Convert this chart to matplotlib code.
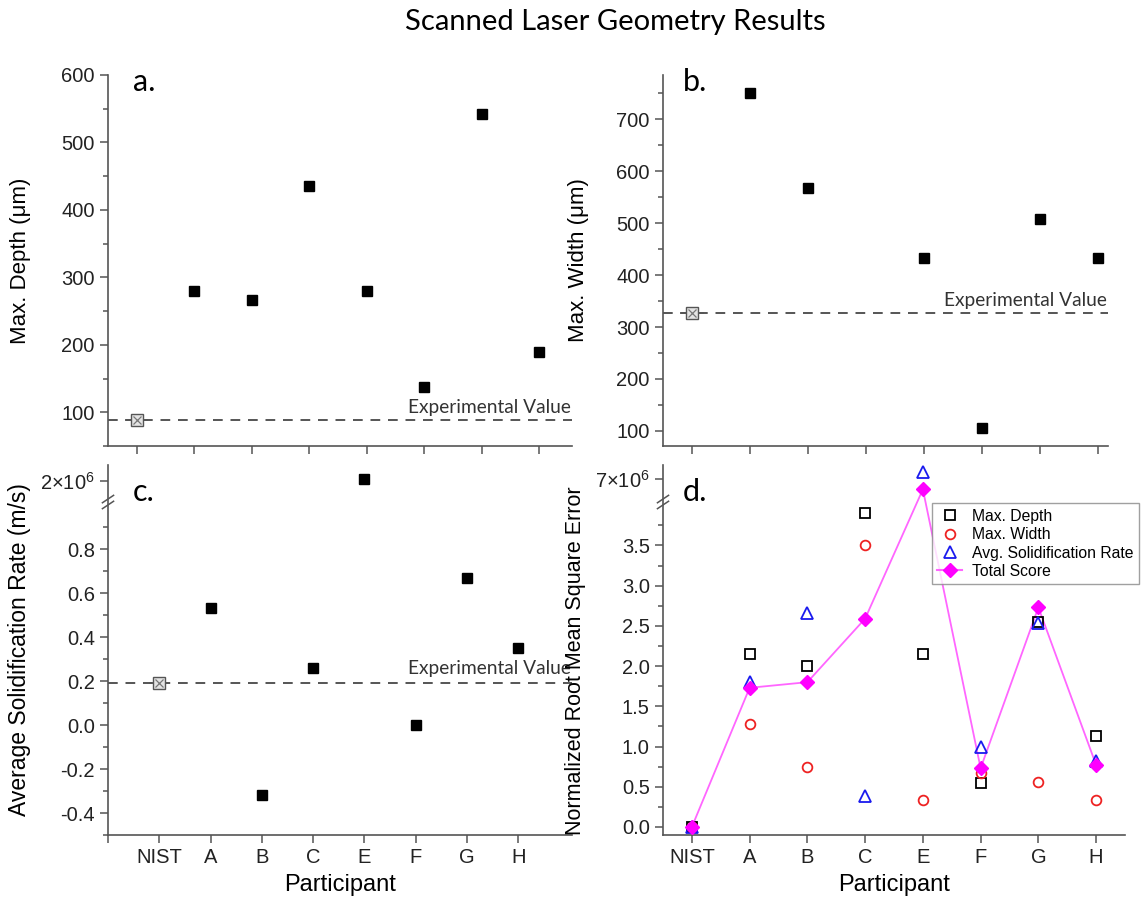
import matplotlib
matplotlib.use("Agg")
import matplotlib.pyplot as plt
import numpy as np

# data
participants = ["NIST", "A", "B", "C", "E", "F", "G", "H"]
depth = [89, 280, 266, 435, 280, 137, 542, 189]
depth_exp = 88
width_x = [0, 1, 2, 4, 5, 6, 7]
width = [327, 750, 568, 433, 106, 508, 432]
width_exp = 327
solid = [0.19, 0.53, -0.32, 0.26, 2.01e6, 0.0, 0.67, 0.35]
solid_exp = 0.19
nrmse_depth = [0, 2.15, 2.0, 3.9, 2.15, 0.55, 2.55, 1.13]
nrmse_width = [0, 1.28, 0.75, 3.5, 0.33, 0.67, 0.56, 0.33]
nrmse_solid = [0, 1.8, 2.66, 0.38, 7.12e6, 1.0, 2.53, 0.82]
nrmse_total = [0, 1.73, 1.8, 2.59, 6.8e6, 0.73, 2.73, 0.77]

plt.rcParams['font.family'] = ['Liberation Sans', 'DejaVu Sans']
plt.rcParams['mathtext.fontset'] = 'custom'
plt.rcParams['mathtext.rm'] = 'Liberation Sans'
plt.rcParams['mathtext.it'] = 'Liberation Sans'
GREY = '#555555'
TICK_FS = 14.5

fig = plt.figure(figsize=(11.41, 9.10), dpi=100)
W, H = 1141, 910


def box(l, t, r, b):
    return [l / W, 1 - b / H, (r - l) / W, (b - t) / H]


ax_a = fig.add_axes(box(108, 75, 572, 446))
ax_b = fig.add_axes(box(663, 75, 1108, 446))
ax_c = fig.add_axes(box(108, 465, 572, 835))
ax_d = fig.add_axes(box(663, 465, 1125, 835))


def broken(lo_top, gap, up_lo, up_hi, up_h):
    def fwd(y):
        y = np.asarray(y, float)
        mid = lo_top + gap * (y - lo_top) / (up_lo - lo_top)
        up = lo_top + gap + (y - up_lo) / (up_hi - up_lo) * up_h
        return np.where(y <= lo_top, y, np.where(y < up_lo, mid, up))

    def inv(v):
        v = np.asarray(v, float)
        mid = lo_top + (v - lo_top) / gap * (up_lo - lo_top)
        up = up_lo + (v - lo_top - gap) / up_h * (up_hi - up_lo)
        return np.where(v <= lo_top, v, np.where(v < lo_top + gap, mid, up))
    return fwd, inv


for ax in (ax_a, ax_b, ax_c, ax_d):
    for s in ('top', 'right'):
        ax.spines[s].set_visible(False)
    for s in ('left', 'bottom'):
        ax.spines[s].set_color(GREY)
        ax.spines[s].set_linewidth(1.2)
    ax.tick_params(which='both', colors=GREY, labelcolor='#222222', labelsize=TICK_FS, width=1.1)
    ax.tick_params(which='major', length=6)
    ax.tick_params(which='minor', length=3.5)


def break_marks(ax, yfrac):
    for dy in (-0.008, 0.008):
        ax.plot([-0.012, 0.012], [yfrac + dy - 0.01, yfrac + dy + 0.01], transform=ax.transAxes,
                color=GREY, lw=1.1, clip_on=False)


def nist_marker(ax, x, y, xerr):
    ax.errorbar([x], [y], xerr=[xerr], fmt='none', ecolor=GREY, elinewidth=1.2, capsize=0)
    ax.plot([x], [y], marker='s', ms=8, mfc='#e4e4e4', mec=GREY, mew=1.0, ls='none', zorder=4)
    ax.plot([x], [y], marker='x', ms=6, mec='#777777', mew=0.9, ls='none', zorder=5)


def exp_label(ax, y):
    ax.text(0.998, y, 'Experimental Value', transform=ax.get_yaxis_transform(),
            ha='right', va='bottom', fontsize=13.8, family='Lato', color='#333333')


xs = np.arange(len(participants))

# a. depth
ax_a.axhline(depth_exp, color=GREY, ls=(0, (5, 4)), lw=1.4)
ax_a.plot(xs[1:], depth[1:], 's', color='black', ms=7)
nist_marker(ax_a, 0, depth[0], 0.2)
ax_a.set_xlim(-0.5, 7.57)
ax_a.set_ylim(50, 600)
ax_a.set_yticks([100, 200, 300, 400, 500, 600])
ax_a.set_yticks(np.arange(50, 600, 100), minor=True)
ax_a.set_xticks(xs)
ax_a.set_xticklabels([])
ax_a.set_ylabel('Max. Depth (μm)', fontsize=16)
ax_a.yaxis.set_label_coords(-0.166, 0.5)
exp_label(ax_a, depth_exp + 6)

# b. width
ax_b.axhline(width_exp, color=GREY, ls=(0, (5, 4)), lw=1.4)
ax_b.plot(width_x[1:], width[1:], 's', color='black', ms=7)
nist_marker(ax_b, width_x[0], width[0], 0.2)
ax_b.set_xlim(-0.5, 7.17)
ax_b.set_ylim(71, 785)
ax_b.set_yticks([100, 200, 300, 400, 500, 600, 700])
ax_b.set_yticks(np.arange(150, 785, 100), minor=True)
ax_b.set_xticks(xs)
ax_b.set_xticklabels([])
ax_b.set_ylabel('Max. Width (μm)', fontsize=16)
ax_b.yaxis.set_label_coords(-0.166, 0.5)
exp_label(ax_b, width_exp + 7)

# c. solidification rate
f_c, i_c = broken(1.0, 0.023, 1.9e6, 2.0875e6, 0.159)
ax_c.set_yscale('function', functions=(f_c, i_c))
ax_c.axhline(solid_exp, color=GREY, ls=(0, (5, 4)), lw=1.4)
ax_c.plot(xs[1:], solid[1:], 's', color='black', ms=7)
nist_marker(ax_c, 0, solid[0], 0.2)
ax_c.set_xlim(-1, 8.05)
ax_c.set_ylim(-0.5, 2.0875e6)
ax_c.set_yticks([-0.4, -0.2, 0.0, 0.2, 0.4, 0.6, 0.8, 2e6])
ax_c.set_yticklabels(['-0.4', '-0.2', '0.0', '0.2', '0.4', '0.6', '0.8', r'$2{\times}10^6$'])
ax_c.set_yticks([-0.5, -0.3, -0.1, 0.1, 0.3, 0.5, 0.7, 0.9], minor=True)
ax_c.set_xticks(np.arange(-1, 8))
ax_c.set_xticklabels([''] + participants)
ax_c.set_ylabel('Average Solidification Rate (m/s)', fontsize=16.5)
ax_c.yaxis.set_label_coords(-0.166, 0.5)
ax_c.set_xlabel('Participant', fontsize=17)
ax_c.xaxis.set_label_coords(0.5, -0.105)
exp_label(ax_c, solid_exp + 0.03)
break_marks(ax_c, (835 - 502) / 370)

# d. NRMSE
f_d, i_d = broken(4.0, 0.0625, 6.6e6, 7.25e6, 0.4375)
ax_d.set_yscale('function', functions=(f_d, i_d))
ax_d.plot(xs, nrmse_total, '-', color='#ff66ff', lw=1.3, zorder=2)
ax_d.plot(xs, nrmse_depth, 's', mfc='none', mec='black', mew=1.3, ms=7, ls='none',
          label='Max. Depth', zorder=3)
ax_d.plot(xs, nrmse_width, 'o', mfc='none', mec='#ee2222', mew=1.3, ms=7, ls='none',
          label='Max. Width', zorder=3)
ax_d.plot(xs, nrmse_solid, '^', mfc='none', mec='#1a1aee', mew=1.3, ms=8, ls='none',
          label='Avg. Solidification Rate', zorder=3)
ax_d.plot(xs, nrmse_total, 'D', color='#ff00ff', ms=7, ls='none', zorder=4)
ax_d.plot([], [], '-D', color='#ff66ff', mfc='#ff00ff', mec='#ff00ff', ms=7,
          label='Total Score')
ax_d.set_xlim(-0.5, 7.5)
ax_d.set_ylim(-0.1, 7.25e6)
ax_d.set_yticks([0.0, 0.5, 1.0, 1.5, 2.0, 2.5, 3.0, 3.5, 7e6])
ax_d.set_yticklabels(['0.0', '0.5', '1.0', '1.5', '2.0', '2.5', '3.0', '3.5', r'$7{\times}10^6$'])
ax_d.set_yticks(np.arange(0.25, 4.0, 0.5), minor=True)
ax_d.set_xticks(xs)
ax_d.set_xticklabels(participants)
ax_d.set_ylabel('Normalized Root Mean Square Error', fontsize=15.5)
ax_d.yaxis.set_label_coords(-0.167, 0.47)
ax_d.set_xlabel('Participant', fontsize=17)
ax_d.xaxis.set_label_coords(0.5, -0.105)
break_marks(ax_d, (835 - 502) / 370)
leg = ax_d.legend(loc='upper left', bbox_to_anchor=(0.582, 0.897), borderaxespad=0,
                  fontsize=11.3, fancybox=False, edgecolor='#888888', handlelength=1.6,
                  borderpad=0.35, labelspacing=0.22, handletextpad=0.6)
leg.get_frame().set_linewidth(1.0)

# panel letters
for lab, (x, y) in zip(['a.', 'b.', 'c.', 'd.'], [(133, 82), (683, 82), (133, 492), (683, 492)]):
    fig.text(x / W, 1 - y / H, lab, fontsize=22, family='Lato', ha='left', va='center')

fig.text(615 / W, 1 - 22 / H, 'Scanned Laser Geometry Results', fontsize=21, family='Lato',
         ha='center', va='center')

fig.savefig('out.png', dpi=100)
